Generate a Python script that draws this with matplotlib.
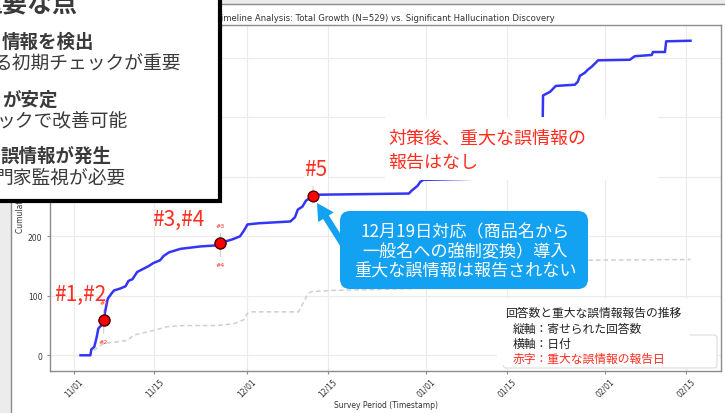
import matplotlib.pyplot as plt
import matplotlib.dates as mdates
import pandas as pd
from matplotlib.patches import Rectangle, FancyBboxPatch, FancyArrowPatch

# cumulative responses (blue)
total_time = ["2025-11-02 05:00", "2025-11-03 22:00", "2025-11-04 02:00", "2025-11-04 14:00",
              "2025-11-05 00:00", "2025-11-05 07:00", "2025-11-05 19:00", "2025-11-06 05:00",
              "2025-11-06 12:00", "2025-11-06 22:00", "2025-11-07 12:00", "2025-11-08 00:00",
              "2025-11-09 00:00", "2025-11-10 00:00", "2025-11-10 12:00", "2025-11-11 05:00",
              "2025-11-12 00:00", "2025-11-13 00:00", "2025-11-14 00:00", "2025-11-14 19:00",
              "2025-11-16 00:00", "2025-11-16 14:00", "2025-11-17 12:00", "2025-11-19 12:00",
              "2025-11-22 22:00", "2025-11-26 00:00", "2025-11-26 10:00", "2025-11-28 12:00",
              "2025-11-29 19:00", "2025-11-30 12:00", "2025-12-01 02:00", "2025-12-03 00:00",
              "2025-12-08 12:00", "2025-12-09 07:00", "2025-12-09 19:00", "2025-12-10 14:00",
              "2025-12-11 05:00", "2025-12-12 10:00", "2025-12-13 00:00", "2025-12-29 00:00",
              "2025-12-29 12:00", "2025-12-30 12:00", "2025-12-31 00:00", "2025-12-31 12:00",
              "2026-01-10 00:00", "2026-01-21 00:00", "2026-01-21 05:00", "2026-01-22 10:00",
              "2026-01-23 10:00", "2026-01-26 17:00", "2026-01-27 05:00", "2026-01-27 14:00",
              "2026-01-28 10:00", "2026-01-28 22:00", "2026-01-29 14:00", "2026-01-30 10:00",
              "2026-01-30 17:00", "2026-02-05 05:00", "2026-02-06 02:00", "2026-02-09 00:00",
              "2026-02-09 05:00", "2026-02-11 07:00", "2026-02-11 12:00", "2026-02-15 17:00"]
total_count = [0, 0, 10, 14, 30, 45, 50, 60, 75, 95, 103, 109, 112, 116, 125, 128,
               140, 145, 150, 155, 160, 167, 173, 179, 183, 185, 189, 195, 200, 210, 220, 222,
               225, 232, 245, 250, 260, 268, 270, 272, 277, 285, 292, 295, 297, 300,
               437, 443, 453, 455, 460, 470, 475, 480, 485, 493, 496, 497, 503, 505,
               510, 510, 528, 529]

# secondary cumulative series (grey dashed)
other_time = ["2025-11-04 12:00", "2025-11-05 12:00", "2025-11-06 05:00", "2025-11-08 00:00",
              "2025-11-10 07:00", "2025-11-11 10:00", "2025-11-13 17:00", "2025-11-14 22:00",
              "2025-11-17 05:00", "2025-11-20 00:00", "2025-11-25 19:00", "2025-11-28 17:00",
              "2025-11-30 12:00", "2025-12-01 00:00", "2025-12-01 14:00", "2025-12-09 22:00",
              "2025-12-10 12:00", "2025-12-11 14:00", "2025-12-12 05:00", "2025-12-15 10:00",
              "2025-12-29 17:00", "2026-01-06 00:00", "2026-01-14 00:00", "2026-01-20 00:00",
              "2026-01-24 00:00", "2026-01-29 12:00", "2026-02-15 17:00"]
other_count = [8, 15, 20, 22, 25, 34, 39, 42, 48, 50, 50, 53, 60, 70, 73, 73,
               84, 104, 107, 109, 112, 118, 130, 145, 155, 160, 161]

# significant hallucination reports
alert_time = ["2025-11-06 05:00", "2025-11-06 05:00", "2025-11-26 10:00",
              "2025-11-26 10:00", "2025-12-12 10:00"]
alert_count = [60, 60, 189, 189, 268]
alert_label = ["#1", "#2", "#3", "#4", "#5"]

title = "Timeline Analysis: Total Growth (N=529) vs. Significant Hallucination Discovery"

JP = ["Noto Sans CJK JP", "DejaVu Sans"]
RED = "#ff2d20"
BLUE_BOX = "#13a2f2"

fig = plt.figure(figsize=(7.25, 4.14), dpi=100, facecolor="#ececec")
fig.add_artist(Rectangle((11 / 725, -0.01), 1, 1 - 5 / 414 + 0.01, transform=fig.transFigure,
                         facecolor="white", edgecolor="#8a8a8a", lw=1, zorder=-1))

ax = fig.add_axes([50 / 725, 42 / 414, 671 / 725, 346 / 414])
tt = pd.to_datetime(total_time)
ot = pd.to_datetime(other_time)
at = pd.to_datetime(alert_time)
ax.plot(tt, total_count, color="#3535f5", lw=1.8, zorder=3)
ax.plot(ot, other_count, color="#cfcfcf", lw=1.1, ls=(0, (3, 2)), zorder=2)
ax.scatter(at, alert_count, s=60, color="#ff0000", edgecolor="#5a0000", lw=1, zorder=5)
for i, (t, c, lab) in enumerate(zip(at, alert_count, alert_label)):
    dy = 12.5 if i % 2 == 0 else -15.5
    ax.annotate(lab, xy=(t, c), xytext=(0, dy), textcoords="offset points",
                ha="center", va="center", fontsize=4.5, color=RED,
                arrowprops=dict(arrowstyle="-", color="#d0d0d0", lw=0.8, shrinkA=2, shrinkB=0),
                zorder=4)

ax.xaxis.set_major_locator(mdates.DayLocator(bymonthday=[1, 15]))
ax.xaxis.set_major_formatter(mdates.DateFormatter("%m/%d"))
ax.grid(True, color="#ebebeb", lw=0.8)
ax.set_axisbelow(True)
for s in ax.spines.values():
    s.set_color("#8c8c8c")
    s.set_linewidth(1)
ax.tick_params(axis="both", length=2.5, color="#8c8c8c", labelsize=5.5, labelcolor="#333333")
ax.tick_params(axis="x", pad=1.5)
ax.tick_params(axis="y", pad=3)
plt.setp(ax.get_xticklabels(), rotation=45, ha="center")
ax.set_title(title, fontsize=6.1, color="#333333", pad=3.5)
ax.set_xlabel("Survey Period (Timestamp)", fontsize=5.5, color="#333333")
ax.xaxis.set_label_coords(0.5, -0.084)
ax.set_ylabel("Cumulative Count", fontsize=5.5, color="#333333")
ax.yaxis.set_label_coords(-0.037, 0.5)

# overlay in pixel coordinates
ov = fig.add_axes([0, 0, 1, 1], zorder=10)
ov.set_xlim(0, 725)
ov.set_ylim(414, 0)
ov.axis("off")

# key-points box (top-left)
ov.add_patch(Rectangle((-10, -10), 230, 212, facecolor="white", edgecolor="black", lw=3))
key_lines = [("重要な点", -22, 4, 18, "bold"),
             ("情報を検出", 2, 42, 13.3, "bold"),
             ("る初期チェックが重要", -6, 64, 13.5, "normal"),
             ("が安定", 2, 100, 13.3, "bold"),
             ("ックで改善可能", -3, 121, 13.5, "normal"),
             ("誤情報が発生", 0, 156, 13.3, "bold"),
             ("門家監視が必要", -6, 178, 13.5, "normal")]
for txt, x, y, fs, w in key_lines:
    ov.text(x, y, txt, ha="left", va="center", fontsize=fs, fontweight=w,
            color="#3a3a3a", family=JP, clip_on=True)

# big alert labels
ov.text(80, 295, "#1,#2", ha="center", va="center", fontsize=15, color=RED, family=JP)
ov.text(178, 220, "#3,#4", ha="center", va="center", fontsize=15, color=RED, family=JP)
ov.text(316, 170, "#5", ha="center", va="center", fontsize=15, color=RED, family=JP,
        bbox=dict(facecolor="white", edgecolor="none", pad=0.5))

# red note with white backing
ov.add_patch(Rectangle((385, 118), 273, 63, facecolor="white", edgecolor="none"))
ov.text(388, 151, "対策後、重大な誤情報の\n報告はなし", ha="left", va="center",
        fontsize=13, color=RED, family=JP, linespacing=1.45)

# callout
ov.add_patch(FancyBboxPatch((340, 212), 248, 78, boxstyle="round,pad=0,rounding_size=10",
                            facecolor=BLUE_BOX, edgecolor="none"))
ov.add_patch(FancyArrowPatch((346, 250), (317, 204),
                             arrowstyle="simple,head_length=0.55,head_width=0.6,tail_width=0.22",
                             mutation_scale=22, facecolor=BLUE_BOX, edgecolor="none",
                             shrinkA=0, shrinkB=0))
ov.text(465, 252, "12月19日対応（商品名から\n一般名への強制変換）導入\n重大な誤情報は報告されない",
        ha="center", va="center", multialignment="center", fontsize=12.3, color="white",
        family=JP, linespacing=1.12)

# legend frame of the chart partly covered by the note
ov.add_patch(FancyBboxPatch((503, 336), 214, 33, boxstyle="round,pad=0,rounding_size=3",
                            facecolor="white", edgecolor="#dcdcdc", lw=0.8))
ov.add_patch(Rectangle((497, 300), 193, 66, facecolor="white", edgecolor="none"))
ov.text(505, 313, "回答数と重大な誤情報報告の推移", ha="left", va="center",
        fontsize=8.5, color="#222222", family=JP)
ov.text(513, 329, "縦軸：寄せられた回答数", ha="left", va="center",
        fontsize=8.5, color="#222222", family=JP)
ov.text(513, 344, "横軸：日付", ha="left", va="center",
        fontsize=8.5, color="#222222", family=JP)
ov.text(513, 359, "赤字：重大な誤情報の報告日", ha="left", va="center",
        fontsize=8.5, color=RED, family=JP)

fig.savefig("out.png", dpi=100, facecolor=fig.get_facecolor())
